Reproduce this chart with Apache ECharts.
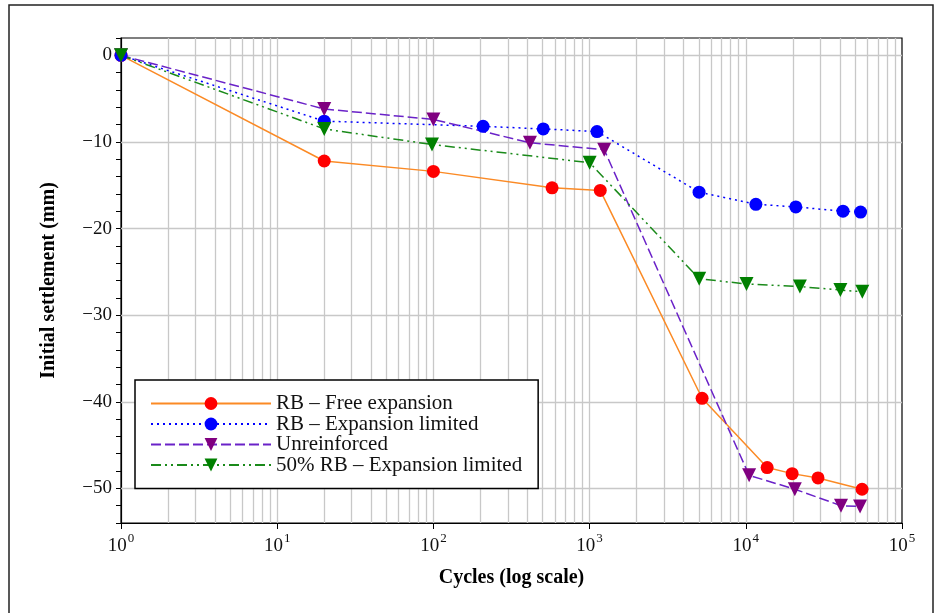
<!DOCTYPE html>
<html>
<head>
<meta charset="utf-8">
<script src="https://cdn.jsdelivr.net/npm/echarts@6/dist/echarts.min.js"></script>
<style>
  html, body { margin: 0; padding: 0; background: #fff; }
  #chart { width: 938px; height: 613px; }
</style>
</head>
<body>
<div id="chart"></div>
<script>
// 数据：循环次数（对数坐标）与初始沉降 (mm)
const seriesNames = [
  'RB \u2013 Free expansion',
  'RB \u2013 Expansion limited',
  'Unreinforced',
  '50% RB \u2013 Expansion limited',
]
const freeX = [1, 20, 100, 575, 1170, 5250, 13700, 19800, 29000, 55500]
const freeY = [0, -12.2, -13.4, -15.3, -15.6, -39.6, -47.6, -48.3, -48.8, -50.1]
const limitedX = [1, 20, 208, 505, 1115, 5020, 11600, 20900, 41900, 54300]
const limitedY = [0, -7.6, -8.2, -8.5, -8.8, -15.8, -17.2, -17.5, -18.0, -18.1]
const unreinX = [1, 20, 100, 415, 1240, 10500, 20600, 40700, 53900]
const unreinY = [0, -6.2, -7.4, -10.1, -10.9, -48.5, -50.1, -52.0, -52.1]
const halfX = [1, 20, 98, 1000, 5030, 10100, 22200, 40300, 55700]
const halfY = [0, -8.5, -10.3, -12.4, -25.8, -26.4, -26.7, -27.1, -27.3]

const yTicks = [0, -10, -20, -30, -40, -50]
const gridSteps = [1, 2, 3, 4, 5, 6, 7, 8, 9]
const decades = [1, 10, 100, 1000, 10000]

const zip = (xs, ys) => xs.map((x, i) => [x, ys[i]])

const serif = 'Liberation Serif'
const gridColor = '#c8c8c8'

// 网格线（对数轴的主/次刻度 + y 主刻度）
const gridLines = []
decades.forEach((d) => {
  gridSteps.forEach((m) => {
    if (d * m > 1)
      gridLines.push({ xAxis: d * m })
  })
})
yTicks.forEach(v => gridLines.push({ yAxis: v }))

const fmtNum = v => (v < 0 ? `\u2212${-v}` : `${v}`)

function lineSeries(name, data, color, markColor, symbol, dash) {
  return {
    name,
    type: 'line',
    data,
    z: 10,
    clip: false,
    symbol,
    symbolSize: symbol === 'circle' ? 13 : 14,
    symbolRotate: symbol === 'triangle' ? 180 : 0,
    showAllSymbol: true,
    lineStyle: { color, width: 1.5, type: dash },
    itemStyle: { color: markColor, borderWidth: 0 },
    emphasis: { disabled: true },
    animation: false,
  }
}

const chart = echarts.init(document.getElementById('chart'))
chart.setOption({
  animation: false,
  graphic: [
    {
      type: 'rect',
      shape: { x: 9, y: 5, width: 924, height: 700 },
      style: { fill: 'none', stroke: '#222', lineWidth: 1.5 },
      silent: true,
    },
  ],
  grid: {
    left: 121,
    right: 36,
    top: 38,
    bottom: 90,
    show: true,
    borderColor: '#000',
    borderWidth: 1.2,
  },
  legend: {
    z: 30,
    orient: 'vertical',
    left: 135,
    top: 380,
    padding: [13, 16, 13, 15],
    borderColor: '#000',
    borderWidth: 1.5,
    backgroundColor: '#fff',
    itemWidth: 120,
    itemHeight: 16,
    itemGap: -0.5,
    textStyle: { fontFamily: serif, fontSize: 21, color: '#111' },
    data: seriesNames,
  },
  xAxis: {
    type: 'log',
    logBase: 10,
    min: 1,
    max: 100000,
    name: 'Cycles (log scale)',
    nameLocation: 'middle',
    nameGap: 45,
    nameTextStyle: { fontFamily: serif, fontSize: 20, fontWeight: 'bold', color: '#000' },
    axisLine: { onZero: false, lineStyle: { color: '#000', width: 1.2 } },
    axisTick: { show: true, length: 6, lineStyle: { color: '#000' } },
    axisLabel: {
      margin: 9,
      color: '#111',
      formatter: v => `{b|10}{s|${Math.round(Math.log10(v))}}`,
      rich: {
        b: { fontFamily: serif, fontSize: 19, color: '#111', lineHeight: 24, verticalAlign: 'bottom' },
        s: { fontFamily: serif, fontSize: 13, color: '#111', lineHeight: 24, verticalAlign: 'top', padding: [0, 0, 10, 1] },
      },
    },
    splitLine: { show: false },
  },
  yAxis: {
    type: 'value',
    min: -54,
    max: 2,
    interval: 2,
    name: 'Initial settlement (mm)',
    nameLocation: 'middle',
    nameGap: 62,
    nameTextStyle: { fontFamily: serif, fontSize: 20, fontWeight: 'bold', color: '#000' },
    axisLine: { show: true, onZero: false, lineStyle: { color: '#000', width: 1.2 } },
    axisTick: { show: true, length: 5, lineStyle: { color: '#000' } },
    axisLabel: {
      margin: 9,
      fontFamily: serif,
      fontSize: 19,
      color: '#111',
      formatter: v => (v % 10 === 0 ? fmtNum(v) : ''),
    },
    splitLine: { show: false },
  },
  series: [
    {
      name: 'grid',
      type: 'line',
      data: [],
      z: 1,
      silent: true,
      markLine: {
        silent: true,
        symbol: ['none', 'none'],
        label: { show: false },
        lineStyle: { color: gridColor, type: 'solid', width: 1.3 },
        emphasis: { disabled: true },
        animation: false,
        data: gridLines,
      },
    },
    lineSeries(seriesNames[0], zip(freeX, freeY), '#fb8a25', '#ff0000', 'circle', 'solid'),
    lineSeries(seriesNames[1], zip(limitedX, limitedY), '#0000ff', '#0000ff', 'circle', [2, 4]),
    lineSeries(seriesNames[2], zip(unreinX, unreinY), '#6a22c8', '#800080', 'triangle', [10, 4]),
    lineSeries(seriesNames[3], zip(halfX, halfY), '#1a8a1a', '#008000', 'triangle', [10, 4, 2, 4, 2, 4]),
  ],
})
</script>
</body>
</html>
